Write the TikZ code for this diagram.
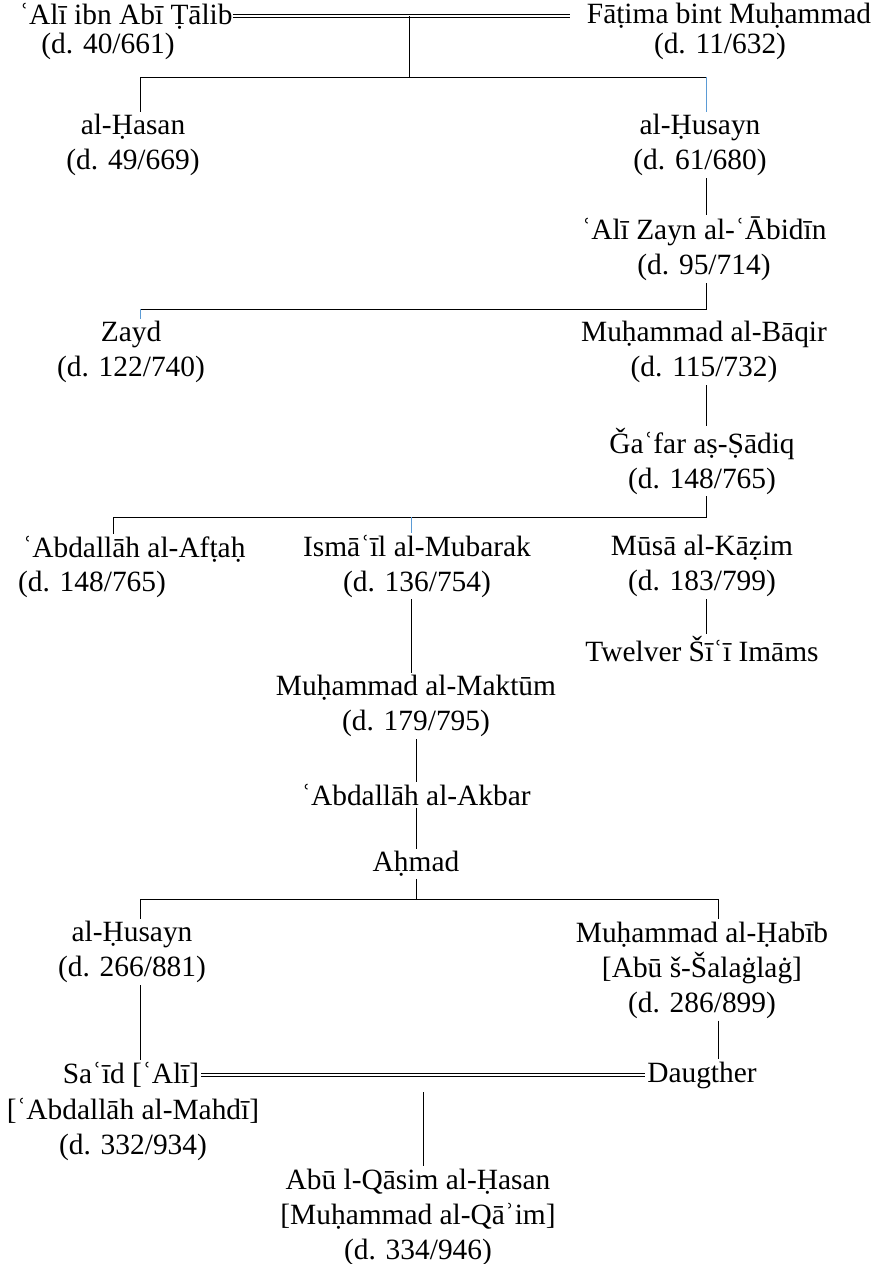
\documentclass[tikz,border=0pt]{standalone}
\usepackage{fontspec}
\setmainfont{Liberation Serif}
\usetikzlibrary{calc}
\definecolor{wordblue}{RGB}{91,155,213}
\tikzset{
    person/.style={align=center, inner sep=2pt},
    link/.style={line width=0.8pt},
    bluelink/.style={line width=0.6pt, draw=wordblue},
    marriage/.style={double, double distance=2.6pt, line width=0.7pt}
}

\begin{document}
\begin{tikzpicture}[x=1pt,y=-1pt,font=\fontsize{29.4}{35}\selectfont]
\useasboundingbox (0,0) rectangle (873,1264);

% first couple
\node[person] (aliN) at (126,16) {ʿAlī ibn Abī Ṭālib};
\node[person] (aliD) at (108,46) {(d. 40/661)};
\node[person] (fatN) at (729,16) {Fāṭima bint Muḥammad};
\node[person] (fatD) at (720,46) {(d. 11/632)};
\draw[marriage] ([xshift=-2pt]aliN.east) -- ([xshift=-15pt]fatN.west);
\coordinate (m1) at ($(aliN.east)!0.5!(fatN.west)$);

\node[person] (hasan) at (133,145) {al-Ḥasan\\(d. 49/669)};
\node[person] (husayn) at (700,145) {al-Ḥusayn\\(d. 61/680)};
\node[person] (zayn) at (704,249) {ʿAlī Zayn al-ʿĀbidīn\\(d. 95/714)};
\node[person] (zayd) at (131,352) {Zayd\\(d. 122/740)};
\node[person] (baqir) at (704,352) {Muḥammad al-Bāqir\\(d. 115/732)};
\node[person] (jafar) at (702,461) {Ǧaʿfar aṣ-Ṣādiq\\(d. 148/765)};
\node[person] (aftahN) at (134,549) {ʿAbdallāh al-Afṭaḥ};
\node[person] (aftahD) at (92,584) {(d. 148/765)};
\node[person] (ismail) at (417,566) {Ismāʿīl al-Mubarak\\(d. 136/754)};
\node[person] (musa) at (702,566) {Mūsā al-Kāẓim\\(d. 183/799)};
\node[person] (twelver) at (702,649) {Twelver Šīʿī Imāms};
\node[person] (maktum) at (416,706) {Muḥammad al-Maktūm\\(d. 179/795)};
\node[person] (akbar) at (416,795) {ʿAbdallāh al-Akbar};
\node[person] (ahmad) at (416,864) {Aḥmad};
\node[person] (husayn2) at (132,952) {al-Ḥusayn\\(d. 266/881)};
\node[person] (habib) at (702,970) {Muḥammad al-Ḥabīb\\{}[Abū š-Šalaġlaġ]\\(d. 286/899)};

% second couple
\node[person] (saidN) at (131,1075) {Saʿīd [ʿAlī]};
\node[person] (saidR) at (133,1129) {[ʿAbdallāh al-Mahdī]\\(d. 332/934)};
\node[person] (daughter) at (702,1075) {Daugther};
\draw[marriage] (saidN.east) -- (daughter.west);
\coordinate (m2) at ($(saidN.east)!0.5!(daughter.west)$);
\node[person] (qasim) at (418,1217) {Abū l-Qāsim al-Ḥasan\\{}[Muḥammad al-Qāʾim]\\(d. 334/946)};

% forks
\coordinate (f1l) at (140,77);
\coordinate (f1r) at (706,77);
\coordinate (f2l) at (140,309);
\coordinate (f2r) at (706,309);
\coordinate (f4l) at (113,517);
\coordinate (f4m) at (411,517);
\coordinate (f4r) at (706,517);
\coordinate (f3l) at (140,899);
\coordinate (f3r) at (718,899);

% lines down
\draw[link] (m1) -- (m1 |- f1l);
\draw[link] (hasan.north -| f1l) |- (f1r);
\draw[bluelink] (f1r) -- (husayn.north -| f1r);
\draw[link] (husayn.south -| f1r) -- (zayn.north -| f1r);
\draw[link] (zayn.south -| f2r) -- (f2r) -- (f2l);
\draw[bluelink] (f2l) -- (zayd.north -| f2l);
\draw[link] (baqir.south -| f2r) -- (jafar.north -| f2r);
\draw[link] (jafar.south -| f4r) -- (f4r) -- (f4l) -- (aftahN.north -| f4l);
\draw[bluelink] (f4m) -- (ismail.north -| f4m);
\draw[link] (musa.south -| f4r) -- (twelver.north -| f4r);
\draw[link] (ismail.south -| f4m) -- (maktum.north -| f4m);
\draw[link] (maktum.south) -- (akbar.north);
\draw[link] (akbar.south) -- (ahmad.north);
\draw[link] (ahmad.south) -- (ahmad.south |- f3l);
\draw[link] (husayn2.north -| f3l) |- (f3r) -- (habib.north -| f3r);
\draw[link] (husayn2.south -| f3l) -- (saidN.north -| f3l);
\draw[link] (habib.south -| f3r) -- (daughter.north -| f3r);
\draw[link] ([yshift=-17pt]m2) -- (m2 |- qasim.north);
\end{tikzpicture}
\end{document}
